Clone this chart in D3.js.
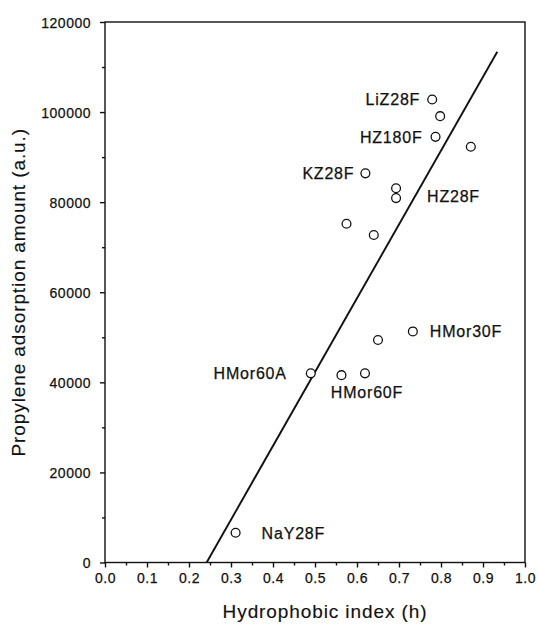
<!DOCTYPE html>
<html>
<head>
<meta charset="utf-8">
<script src="https://cdn.jsdelivr.net/npm/d3@7"></script>
<style>
  html, body { margin: 0; padding: 0; background: #fff; }
  svg { display: block; font-family: "Liberation Sans", Arial, Helvetica, sans-serif; }
  svg text { stroke: #111; stroke-width: 0.25px; }
</style>
</head>
<body>
<svg id="chart" width="538" height="624"></svg>
<script>
// Hydrophobic index vs. propylene adsorption amount
const sampleNames = ["LiZ28F", "", "HZ180F", "", "KZ28F", "", "HZ28F", "", "",
                     "HMor30F", "", "HMor60A", "", "HMor60F", "NaY28F"];
const hydrophobicIndex = [0.779, 0.798, 0.787, 0.871, 0.620, 0.693, 0.693, 0.575, 0.640,
                          0.733, 0.650, 0.490, 0.563, 0.619, 0.311];
const adsorptionAmount = [102800, 99100, 94500, 92300, 86400, 83100, 80900, 75200, 72700,
                          51300, 49400, 42000, 41600, 42000, 6600];

// linear fit through the data, given by its two end points
const fitX = [0.242, 0.934];
const fitY = [0, 113400];

const xTicks = [0, 0.1, 0.2, 0.3, 0.4, 0.5, 0.6, 0.7, 0.8, 0.9, 1.0];
const yTicks = [0, 20000, 40000, 60000, 80000, 100000, 120000];

// label placement (pixel offsets from each marker)
const labelLayout = {
  "LiZ28F":  { anchor: "end",    dx: -12, dy: 0 },
  "HZ180F":  { anchor: "end",    dx: -13, dy: 0 },
  "KZ28F":   { anchor: "end",    dx: -11, dy: 0 },
  "HZ28F":   { anchor: "start",  dx: 31,  dy: -2 },
  "HMor30F": { anchor: "start",  dx: 17,  dy: 0 },
  "HMor60A": { anchor: "end",    dx: -24, dy: 0 },
  "HMor60F": { anchor: "middle", dx: 2,   dy: 19 },
  "NaY28F":  { anchor: "start",  dx: 26,  dy: 0 }
};

const svg = d3.select("#chart");
const plotLeft = 105, plotRight = 525, plotTop = 22, plotBottom = 562.5;

const x = d3.scaleLinear().domain([0, 1]).range([plotLeft, plotRight]);
const y = d3.scaleLinear().domain([0, 120000]).range([plotBottom, plotTop]);

const ink = "#111";

// frame
svg.append("rect")
  .attr("x", plotLeft).attr("y", plotTop)
  .attr("width", plotRight - plotLeft).attr("height", plotBottom - plotTop)
  .attr("fill", "none").attr("stroke", ink).attr("stroke-width", 1.4);

// x axis
const xAxis = svg.append("g")
  .attr("transform", `translate(0,${plotBottom})`)
  .call(d3.axisBottom(x).tickValues(xTicks).tickFormat(d3.format(".1f"))
        .tickSize(5).tickPadding(6));
const xMinor = svg.append("g")
  .attr("transform", `translate(0,${plotBottom})`)
  .call(d3.axisBottom(x).tickValues(d3.range(0.05, 1, 0.1)).tickSize(3).tickFormat(""));

// y axis
const yAxis = svg.append("g")
  .attr("transform", `translate(${plotLeft},0)`)
  .call(d3.axisLeft(y).tickValues(yTicks).tickFormat(d3.format("d"))
        .tickSize(5).tickPadding(9));
const yMinor = svg.append("g")
  .attr("transform", `translate(${plotLeft},0)`)
  .call(d3.axisLeft(y).tickValues(d3.range(10000, 120000, 20000)).tickSize(3).tickFormat(""));

[xAxis, xMinor, yAxis, yMinor].forEach(g => {
  g.select(".domain").remove();
  g.selectAll(".tick line").attr("stroke", ink).attr("stroke-width", 1.4);
  g.selectAll(".tick text")
    .attr("fill", ink)
    .style("font-size", "14px")
    .style("letter-spacing", "0.5px")
    .style("font-family", "'Liberation Sans', Arial, sans-serif");
});
yAxis.selectAll(".tick text").attr("dy", "0.36em");

// fit line
svg.append("line")
  .attr("x1", x(fitX[0])).attr("y1", y(fitY[0]))
  .attr("x2", x(fitX[1])).attr("y2", y(fitY[1]))
  .attr("stroke", ink).attr("stroke-width", 1.9);

// markers
svg.append("g").selectAll("circle")
  .data(hydrophobicIndex)
  .join("circle")
  .attr("cx", d => x(d))
  .attr("cy", (d, i) => y(adsorptionAmount[i]))
  .attr("r", 4.4)
  .attr("fill", "#fff")
  .attr("stroke", ink)
  .attr("stroke-width", 1.3);

// sample labels
sampleNames.forEach((name, i) => {
  if (!name) return;
  const L = labelLayout[name];
  svg.append("text")
    .attr("x", x(hydrophobicIndex[i]) + L.dx)
    .attr("y", y(adsorptionAmount[i]) + L.dy)
    .attr("dy", "0.36em")
    .attr("text-anchor", L.anchor)
    .attr("fill", ink)
    .style("font-size", "16px")
    .style("letter-spacing", "0.8px")
    .text(name);
});

// axis titles
svg.append("text")
  .attr("x", 325).attr("y", 618)
  .attr("text-anchor", "middle")
  .attr("fill", ink)
  .style("font-size", "19px")
  .style("letter-spacing", "0.9px")
  .style("stroke-width", "0.15px")
  .text("Hydrophobic index (h)");

svg.append("text")
  .attr("transform", `translate(25,${(plotTop + plotBottom) / 2}) rotate(-90)`)
  .attr("text-anchor", "middle")
  .attr("fill", ink)
  .style("font-size", "19px")
  .style("letter-spacing", "0.9px")
  .style("stroke-width", "0.15px")
  .text("Propylene adsorption amount (a.u.)");
</script>
</body>
</html>
